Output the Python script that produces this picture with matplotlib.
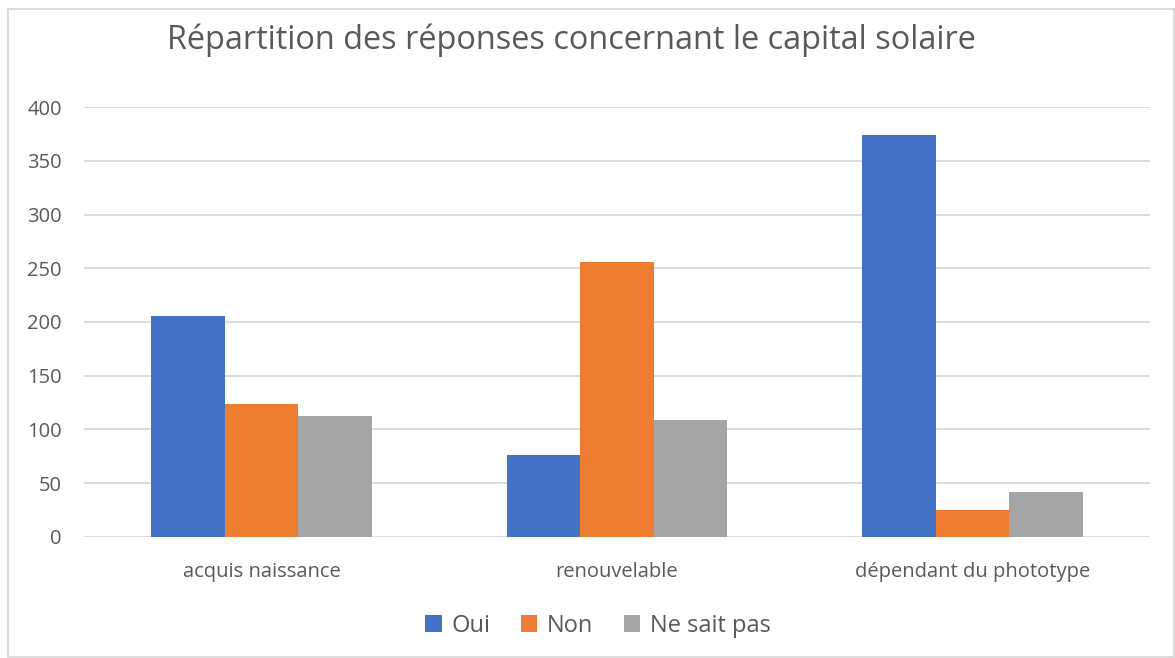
import numpy as np
import matplotlib
matplotlib.use("Agg")
import matplotlib.pyplot as plt
from matplotlib.patches import Rectangle

plt.rcParams['font.family'] = ['Open Sans', 'DejaVu Sans']

categories = ['acquis naissance', 'renouvelable', 'dépendant du phototype']
series = ['Oui', 'Non', 'Ne sait pas']
oui = [206, 76, 374]
non = [124, 256, 25]
ne_sait_pas = [112, 109, 42]
yticks = [0, 50, 100, 150, 200, 250, 300, 350, 400]
colors = ['#4472C4', '#ED7D31', '#A5A5A5']

fig = plt.figure(figsize=(11.75, 6.58), dpi=100)
ax = fig.add_axes([84/1175, 1-536.7/658, (1150-84)/1175, (536.7-107.3)/658])

x = np.arange(len(categories))
w = 0.207
for i, (vals, name) in enumerate(zip([oui, non, ne_sait_pas], series)):
    ax.bar(x + (i-1)*w, vals, w, color=colors[i], label=name, zorder=3)

ax.set_xlim(-0.5, 2.5)
ax.set_ylim(0, 400)
ax.set_yticks(yticks)
ax.set_xticks(x)
ax.set_xticklabels(categories)
ax.grid(axis='y', color='#D9D9D9', linewidth=1.3, zorder=0)
for s in ax.spines.values():
    s.set_visible(False)
ax.tick_params(axis='both', length=0, labelsize=14.5, colors='#595959')
ax.tick_params(axis='y', pad=16)
ax.tick_params(axis='x', pad=18)

fig.text(571/1175, 1-40/658, 'Répartition des réponses concernant le capital solaire',
         ha='center', va='center', fontsize=23.4, color='#595959')

ax.legend(loc='center', bbox_to_anchor=(598/1175, 1-626/658), bbox_transform=fig.transFigure,
          ncol=3, frameon=False, fontsize=17, handlelength=0.7, handleheight=0.7,
          handletextpad=0.4, columnspacing=1.3, labelcolor='#595959')

fig.patches.append(Rectangle((8/1175, 0.002), 1-9/1175, 1-10/658, transform=fig.transFigure,
                             fill=False, edgecolor='#D9D9D9', linewidth=1.3))

fig.savefig('out.png', dpi=100)
